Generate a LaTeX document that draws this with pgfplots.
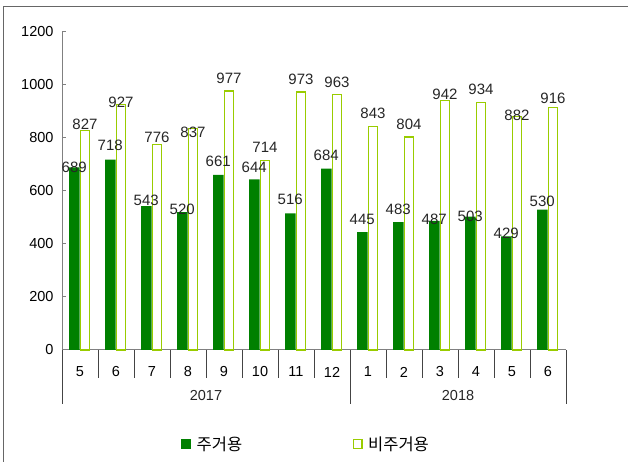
\documentclass[border=0pt]{standalone}
\usepackage{pgfplots}
\pgfplotsset{compat=1.18}
\usepackage{pgfplotstable}
\usepackage{fontspec}
\setmainfont{Liberation Sans}
\newfontfamily\kr{Noto Sans CJK KR}
\definecolor{dg}{HTML}{008000}
\definecolor{lg}{HTML}{99CC00}
\definecolor{ax}{HTML}{808080}
\definecolor{sep}{HTML}{444444}
\definecolor{frame}{HTML}{666666}

\pgfplotstableread{
x y dy
0 689 0
1 718 14
2 543 6
3 520 3
4 661 13
5 644 12
6 516 14
7 684 13
8 445 13
9 483 12.5
10 487 2
11 503 0
12 429 3
13 530 8
}\dark

\pgfplotstableread{
x y dy
0 827 7
1 927 2
2 776 7
3 837 -4
4 977 12.5
5 714 13
6 973 12.5
7 963 12
8 843 13
9 804 13
10 942 6.5
11 934 13
12 882 1
13 916 9
}\light

\begin{document}
\begin{tikzpicture}[x=1pt,y=1pt]
\useasboundingbox (0,0) rectangle (628,462);
\draw[frame, line width=1.2pt] (3.5,0) -- (3.5,455.5) -- (628,455.5);
\begin{axis}[
  at={(62pt,112pt)}, anchor=south west,
  scale only axis, width=504pt, height=318pt,
  xmin=-0.5, xmax=13.5, ymin=0, ymax=1200,
  axis x line*=bottom, axis y line*=left,
  axis line style={ax, line width=1pt, -},
  ytick={0,200,...,1200},
  xtick={0,...,13},
  xticklabels={5,6,7,8,9,10,11,12,1,2,3,4,5,6},
  tick align=inside,
  major tick length=4pt,
  x tick style={draw=none},
  y tick style={ax, line width=1pt},
  /pgf/number format/assume math mode=true,
  /pgf/number format/1000 sep={},
  tick label style={font=\fontsize{14.5}{14.5}\selectfont},
  yticklabel style={anchor=east, xshift=-5pt},
  xticklabel style={anchor=center, yshift=-18pt},
  clip=false,
  ybar,
  legend style={at={(0.236,-0.2956)}, anchor=west, draw=none, fill=none,
    inner sep=0pt, legend columns=2,
    font=\kr\fontsize{16.5}{16.5}\selectfont,
    nodes={inner xsep=5.5pt},
    /tikz/every even column/.append style={column sep=105pt}},
]
\addplot[fill=dg, draw=none, bar width=10.5pt, bar shift=-5.75pt,
  visualization depends on={\thisrow{dy} \as \dy},
  nodes near coords,
  nodes near coords style={anchor=center, yshift=\dy, font=\fontsize{15}{15}\selectfont, text=black!85},
  legend image code/.code={\fill[dg] (0pt,-5pt) rectangle (10pt,5pt);}
] table[x=x, y=y] {\dark};
\addlegendentry{주거용}
\addplot[fill=white, draw=lg, line width=1.3pt, bar width=8.7pt, bar shift=5pt,
  visualization depends on={\thisrow{dy} \as \dy},
  nodes near coords,
  nodes near coords style={anchor=center, yshift=\dy, font=\fontsize{15}{15}\selectfont, text=black!85},
  legend image code/.code={\draw[lg, line width=1.3pt, fill=white] (0.65pt,-4.35pt) rectangle (9.35pt,4.35pt);}
] table[x=x, y=y] {\light};
\addlegendentry{비주거용}
\pgfplotsinvokeforeach{0.5,1.5,2.5,3.5,4.5,5.5,6.5,8.5,9.5,10.5,11.5,12.5}{
  \draw[sep, line width=1pt] (axis cs:#1,0) -- ++(0pt,-28pt);
}
\pgfplotsinvokeforeach{-0.5,7.5,13.5}{
  \draw[sep, line width=1pt] (axis cs:#1,0) -- ++(0pt,-54pt);
}
\node[font=\fontsize{14.5}{14.5}\selectfont, text=black!85] at (axis cs:3.5,0) [yshift=-46pt] {2017};
\node[font=\fontsize{14.5}{14.5}\selectfont, text=black!85] at (axis cs:10.5,0) [yshift=-46pt] {2018};
\end{axis}
\end{tikzpicture}
\end{document}
